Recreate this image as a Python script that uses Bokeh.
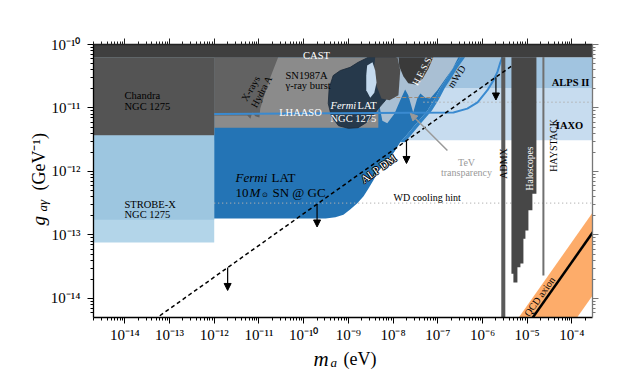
import numpy as np
from bokeh.plotting import figure
from bokeh.models import (Range1d, LogAxis, FixedTicker, CustomJSTickFormatter,
                          Label, Arrow, NormalHead)
from bokeh.embed import file_html
from bokeh.resources import INLINE

FONT = "Liberation Serif"

# ---------------- data: log10 of m_a [eV] and of g_a_gamma [GeV^-1] ----------------
x_lim_log = [-14.70, -3.54]
y_lim_log = [-14.30, -10.00]

x_tick_exps = [-14, -13, -12, -11, -10, -9, -8, -7, -6, -5, -4]
x_tick_labels = ["10⁻¹⁴", "10⁻¹³", "10⁻¹²", "10⁻¹¹", "10⁻¹⁰", "10⁻⁹",
                 "10⁻⁸", "10⁻⁷", "10⁻⁶", "10⁻⁵", "10⁻⁴"]
y_tick_exps = [-14, -13, -12, -11, -10]
y_tick_labels = ["10⁻¹⁴", "10⁻¹³", "10⁻¹²", "10⁻¹¹", "10⁻¹⁰"]

cast_g_log = [-10.20, -9.95]
chandra_m_log = [-14.80, -12.00]
chandra_g_log = [-11.43, -10.20]
strobe_m_log = [-14.80, -12.00]
strobe_outer_g_log = [-13.12, -11.43]
strobe_inner_g_log = [-12.76, -11.43]
alps_g_log = [-10.69, -10.20]
iaxo_g_log = [-11.51, -10.69]

fermi_sn_m_log = [-12.0, -12.0, -9.51, -9.29, -9.11, -8.96, -8.80, -8.66, -8.55, -8.44,
                  -8.35, -8.24, -8.13, -7.97, -7.84, -7.70, -7.57, -7.39, -7.23, -7.08,
                  -6.94, -6.79, -6.65, -6.49]
fermi_sn_g_log = [-10.2, -12.74, -12.74, -12.72, -12.68, -12.60, -12.50, -12.39, -12.27,
                  -12.14, -12.02, -11.92, -11.83, -11.69, -11.54, -11.43, -11.32, -11.17,
                  -11.04, -10.87, -10.68, -10.52, -10.36, -10.2]

mwd_m_log = [-7.84, -7.70, -7.57, -7.39, -7.23, -7.08, -6.94, -6.79, -6.65, -6.49,
             -6.39, -6.55, -6.69, -6.84, -6.98, -7.13, -7.29, -7.47, -7.60, -7.74]
mwd_g_log = [-11.54, -11.43, -11.32, -11.17, -11.04, -10.87, -10.68, -10.52, -10.36, -10.2,
             -10.2, -10.36, -10.52, -10.68, -10.87, -11.04, -11.17, -11.32, -11.43, -11.54]

tev_m_log = [-8.33, -6.54, -6.67, -6.83, -7.01, -7.17, -7.28, -7.39, -7.46, -7.55,
             -7.66, -7.73, -7.84, -7.97, -8.13, -8.24, -8.33]
tev_g_log = [-10.2, -10.2, -10.38, -10.54, -10.72, -10.85, -10.84, -10.77, -10.85, -11.07,
             -10.80, -10.71, -10.88, -11.09, -11.24, -11.20, -10.88]

sn1987a_m_log = [-12.00, -8.33]
sn1987a_g_log = [-11.31, -10.20]

hydra_m_log = [-12.0, -10.57, -10.79, -10.97, -10.99, -11.08, -11.15, -11.19, -11.26, -12.0]
hydra_g_log = [-10.2, -10.2, -10.60, -11.01, -11.15, -11.13, -11.07, -11.17, -11.12, -11.12]

fermi_ngc_m_log = [-9.45, -9.43, -9.34, -9.18, -8.96, -8.78, -8.55, -7.95, -7.90, -7.97,
                   -8.08, -8.17, -8.33, -8.46, -8.60, -8.78, -9.00, -9.22, -9.38]
fermi_ngc_g_log = [-10.93, -10.69, -10.49, -10.41, -10.36, -10.28, -10.2, -10.2, -10.38,
                   -10.57, -10.76, -10.88, -11.01, -11.13, -11.23, -11.31, -11.32, -11.28,
                   -11.13]

hole_m_log = [-8.58, -8.46, -8.40, -8.37, -8.42, -8.51, -8.60, -8.60]
hole_g_log = [-10.33, -10.28, -10.41, -10.60, -10.76, -10.84, -10.72, -10.49]

midgray_m_log = [-8.40, -7.90, -7.84, -7.88, -8.08, -8.26, -8.37, -8.43]
midgray_g_log = [-10.2, -10.2, -10.41, -10.80, -10.88, -10.85, -10.65, -10.41]

hess_m_log = [-7.88, -7.10, -7.21, -7.34, -7.50, -7.66, -7.77, -7.86]
hess_g_log = [-10.2, -10.2, -10.38, -10.54, -10.63, -10.61, -10.50, -10.35]

lat_line_m_log = [-12.0, -6.65, -6.34, -6.11, -5.89, -5.76, -5.67, -5.60, -5.555]
lat_line_g_log = [-11.094, -11.07, -11.01, -10.91, -10.72, -10.57, -10.44, -10.28, -10.2]

wd_hint_g_log = -12.50
wd_hint_m_log = [-12.0, -3.54]
upper_hint_g_log = -10.91
upper_hint_m_log = [-7.32, -3.54]
brown_g_log = -10.835
brown_m_log = [-8.33, -6.95]

alp_m_log = [-13.60, -5.36]
alp_g_log = [-14.464, -10.344]
alp_arrow_m_log = [-11.70, -9.70, -7.70, -5.70]
alp_arrow_g_log = [-13.514, -12.514, -11.514, -10.514]
arrow_len_dec = 0.36

admx_m_log = [-5.58, -5.49]
halo_edges_m_log = [-5.353, -5.309, -5.219, -5.152, -5.085, -5.040, -4.973, -4.884, -4.794]
halo_bottom_g_log = [-13.61, -13.75, -13.51, -13.45, -13.06, -12.93, -12.61, -12.35]
haystack_m_log = -4.638
haystack_g_log = [-13.64, -10.2]

qcd_m_log = [-5.49, -3.40, -3.40, -4.185]
qcd_g_log = [-14.60, -12.51, -13.815, -14.60]
qcd_line_m_log = [-4.90, -3.40]
qcd_line_g_log = [-14.325, -12.825]

tev_arrow_m_log = [-6.785, -7.613]
tev_arrow_g_log = [-11.669, -11.087]


def E(v):
    return 10.0 ** np.asarray(v, dtype=float)


# ---------------- figure ----------------
FRAME = dict(left=93, top=44, width=499, height=273)
p = figure(width=620, height=372, x_axis_type="log", y_axis_type="log",
           x_range=Range1d(10 ** x_lim_log[0], 10 ** x_lim_log[1]),
           y_range=Range1d(10 ** y_lim_log[0], 10 ** y_lim_log[1]),
           output_backend="svg", toolbar_location=None,
           min_border_left=93, min_border_right=28, min_border_top=44, min_border_bottom=55)
p.grid.visible = False
p.outline_line_color = None
p.background_fill_color = "white"
p.border_fill_color = "white"

x_major = [10.0 ** e for e in x_tick_exps]
x_minor = [k * 10.0 ** e for e in range(-15, -3) for k in range(2, 10)]
y_major = [10.0 ** e for e in y_tick_exps]
y_minor = [k * 10.0 ** e for e in range(-15, -9) for k in range(2, 10)]

fmt_code = """
const e = Math.round(Math.log10(tick));
const i = exps.indexOf(e);
return i >= 0 ? labels[i] : "";
"""
xfmt = CustomJSTickFormatter(args=dict(exps=x_tick_exps, labels=x_tick_labels), code=fmt_code)
yfmt = CustomJSTickFormatter(args=dict(exps=y_tick_exps, labels=y_tick_labels), code=fmt_code)
blank = CustomJSTickFormatter(code="return '';")


def style_axis(ax, color="black"):
    ax.axis_line_color = color
    ax.axis_line_width = 1.3
    ax.major_tick_line_color = color
    ax.minor_tick_line_color = color
    ax.major_tick_out = 6
    ax.major_tick_in = 0
    ax.minor_tick_out = 3
    ax.minor_tick_in = 0
    ax.major_label_text_font = FONT
    ax.major_label_text_font_size = "15px"
    ax.major_label_text_color = "black"
    ax.major_label_standoff = 4


p.xaxis.ticker = FixedTicker(ticks=x_major, minor_ticks=x_minor)
p.yaxis.ticker = FixedTicker(ticks=y_major, minor_ticks=y_minor)
p.xaxis.formatter = xfmt
p.yaxis.formatter = yfmt
for ax in p.xaxis + p.yaxis:
    style_axis(ax)
p.yaxis.major_label_orientation = "horizontal"
p.yaxis.major_label_standoff = 7
p.xaxis.major_label_standoff = 3

top = LogAxis(ticker=FixedTicker(ticks=x_major, minor_ticks=x_minor), formatter=blank)
right = LogAxis(ticker=FixedTicker(ticks=y_major, minor_ticks=y_minor), formatter=blank)
style_axis(top, "#222222")
style_axis(right, "#777777")
top.major_label_text_font_size = "1px"
right.major_label_text_font_size = "1px"
p.add_layout(top, "above")
p.add_layout(right, "right")

XL, XR = E(x_lim_log[0] - 0.3), E(x_lim_log[1] + 0.3)

# light blue bands (ALPS II, IAXO)
p.quad(left=XL, right=XR, bottom=E(iaxo_g_log[0]), top=E(iaxo_g_log[1]),
       fill_color="#c7dcef", line_color=None)
p.quad(left=XL, right=XR, bottom=E(alps_g_log[0]), top=E(alps_g_log[1]),
       fill_color="#a1c4e0", line_color=None)
# STROBE-X
p.quad(left=E(strobe_m_log[0]), right=E(strobe_m_log[1]), bottom=E(strobe_outer_g_log[0]),
       top=E(strobe_outer_g_log[1]), fill_color="#b3d5e9", line_color=None)
p.quad(left=E(strobe_m_log[0]), right=E(strobe_m_log[1]), bottom=E(strobe_inner_g_log[0]),
       top=E(strobe_inner_g_log[1]), fill_color="#9dc6e0", line_color=None)
# Fermi LAT SN @ GC
p.patch(E(fermi_sn_m_log), E(fermi_sn_g_log), fill_color="#2474b5", line_color=None)
p.patch(E(mwd_m_log), E(mwd_g_log), fill_color="#3182c4", line_color=None)
# dotted hints on top of the blue
p.line(E(wd_hint_m_log), E([wd_hint_g_log] * 2), line_color="#b0b0b0", line_width=1.3,
       line_dash="1 3")
p.line(E(upper_hint_m_log), E([upper_hint_g_log] * 2), line_color="#b0b0b0", line_width=1.3,
       line_dash="1 3")
# TeV transparency
p.patch(E(tev_m_log), E(tev_g_log), fill_color="#a9bfd3", line_color=None)
p.line(E(brown_m_log), E([brown_g_log] * 2), line_color="#a08c78", line_width=1.2,
       line_dash="4 2")
# SN1987A, Hydra A, Chandra
p.quad(left=E(sn1987a_m_log[0]), right=E(sn1987a_m_log[1]), bottom=E(sn1987a_g_log[0]),
       top=E(sn1987a_g_log[1]), fill_color="#8b8b8b", line_color=None)
p.patch(E(hydra_m_log), E(hydra_g_log), fill_color="#626262", line_color=None)
p.quad(left=E(chandra_m_log[0]), right=E(chandra_m_log[1]), bottom=E(chandra_g_log[0]),
       top=E(chandra_g_log[1]), fill_color="#545454", line_color=None)
# blob regions
p.patch(E(fermi_ngc_m_log), E(fermi_ngc_g_log), fill_color="#26394b", line_color="#1c2a38",
        line_width=0.8)
p.patch(E(midgray_m_log), E(midgray_g_log), fill_color="#4e4e4e", line_color=None)
p.patch(E(hess_m_log), E(hess_g_log), fill_color="#3a3a3a", line_color=None)
p.patch(E(hole_m_log), E(hole_g_log), fill_color="#c4daee", line_color=None)
# Fermi LAT line
p.line(E(lat_line_m_log), E(lat_line_g_log), line_color="#3a8ad0", line_width=2)
# haloscopes
p.quad(left=E(admx_m_log[0]), right=E(admx_m_log[1]), bottom=E(y_lim_log[0] - 0.3),
       top=E(cast_g_log[0]), fill_color="#5a5a5a", line_color=None)
halo_x = [halo_edges_m_log[0]]
halo_y = [cast_g_log[0]]
for i, b in enumerate(halo_bottom_g_log):
    halo_x += [halo_edges_m_log[i], halo_edges_m_log[i + 1]]
    halo_y += [b, b]
halo_x.append(halo_edges_m_log[-1])
halo_y.append(cast_g_log[0])
p.patch(E(halo_x), E(halo_y), fill_color="#474747", line_color=None)
p.line(E([haystack_m_log] * 2), E(haystack_g_log), line_color="#707070", line_width=2)
# QCD axion
p.patch(E(qcd_m_log), E(qcd_g_log), fill_color="#fdac6a", line_color=None)
p.line(E(qcd_line_m_log), E(qcd_line_g_log), line_color="black", line_width=2.5)
# CAST
p.quad(left=XL, right=XR, bottom=E(cast_g_log[0]), top=E(cast_g_log[1]),
       fill_color="#3f3f3f", line_color=None)
# ALP DM
p.line(E(alp_m_log), E(alp_g_log), line_color="black", line_width=1.5, line_dash="4 3")
for mx, gy in zip(alp_arrow_m_log, alp_arrow_g_log):
    p.add_layout(Arrow(x_start=10 ** mx, y_start=10 ** gy, x_end=10 ** mx,
                       y_end=10 ** (gy - arrow_len_dec), line_width=1.2, line_color="black",
                       end=NormalHead(size=7, fill_color="black", line_color="black")))
p.add_layout(Arrow(x_start=10 ** tev_arrow_m_log[0], y_start=10 ** tev_arrow_g_log[0],
                   x_end=10 ** tev_arrow_m_log[1], y_end=10 ** tev_arrow_g_log[1],
                   line_width=1.5, line_color="#999999",
                   end=NormalHead(size=7, fill_color="#999999", line_color="#999999")))


# ---------------- labels: placed by page pixel, converted through the data scales -----------
def page_to_data(px, py):
    fx = (px - FRAME["left"]) / FRAME["width"]
    fy = (py - FRAME["top"]) / FRAME["height"]
    lx = x_lim_log[0] + fx * (x_lim_log[1] - x_lim_log[0])
    ly = y_lim_log[1] - fy * (y_lim_log[1] - y_lim_log[0])
    return 10 ** lx, 10 ** ly


def lab(text, px, py, size=10.0, color="black", align="left", baseline="alphabetic",
        angle=0.0, style="normal", side="center"):
    x, y = page_to_data(px, py)
    p.add_layout(Label(x=x, y=y, text=text, text_font=FONT, text_font_size=f"{size}px",
                       text_color=color, text_align=align, text_baseline=baseline,
                       angle=angle, text_font_style=style), side)


deg = np.pi / 180
lab("CAST", 316, 55, 10.5, "white", "center")
lab("Chandra", 124, 95, 10.5)
lab("NGC 1275", 124, 106, 10.5)
lab("STROBE-X", 124, 204, 10.5)
lab("NGC 1275", 124, 214, 10.5)
lab("X-rays", 250, 88, 10, "black", "center", "middle", 60 * deg)
lab("Hydra A", 261, 91, 10, "black", "center", "middle", 62 * deg)
lab("SN1987A", 285, 75, 10.5)
lab("γ-ray burst", 285, 85, 10.5)
lab("LHAASO", 300, 112, 10.5, "white", "center")
lab("Fermi", 330, 105, 10.5, "white", style="italic")
lab("LAT", 357, 105, 10.5, "white")
lab("NGC 1275", 330, 118, 10.5, "white")
lab("H.E.S.S.", 422, 70, 9.5, "white", "center", "middle", 62 * deg)
lab("mWD", 456, 76, 10, "black", "center", "middle", 57 * deg)
lab("ALPS II", 570, 82, 10.5, align="center", style="bold")
lab("IAXO", 569, 125, 10.5, align="center", style="bold")
lab("HAYSTACK", 553, 145, 10, align="center", angle=90 * deg)
lab("ADMX", 503, 163, 10, align="center", angle=90 * deg)
lab("Haloscopes", 529, 168, 9.5, "white", "center", angle=90 * deg)
lab("TeV", 466, 162, 10, "#999999", "center")
lab("transparency", 466, 172, 10, "#999999", "center")
lab("Fermi", 235, 177, 13, style="italic")
lab("LAT", 271, 177, 13)
lab("10", 235, 192, 13)
lab("M", 249, 192, 13, style="italic")
lab("⊙", 261, 194, 7)
lab("SN @ GC", 272, 192, 13)
lab("WD cooling hint", 393, 197, 10)
for dx, dy in [(-0.8, 0), (0.8, 0), (0, -0.8), (0, 0.8), (-0.6, -0.6), (0.6, 0.6),
               (-0.6, 0.6), (0.6, -0.6)]:
    lab("ALP DM", 378 + dx, 168 + dy, 11, "black", "center", "middle", 35.4 * deg)
lab("ALP DM", 378, 168, 11, "white", "center", "middle", 35.4 * deg)
lab("QCD axion", 539, 296, 10, "black", "center", "middle", 54.8 * deg)

# axis titles (side panels so they are not clipped by the frame)
lab("m", 313, 358, 21, style="italic", side="left")
lab("a", 330, 362, 13, style="italic", side="left")
lab("(eV)", 343, 358, 18, side="below")
lab("g", 38, 225, 19, style="italic", angle=90 * deg, side="above")
lab("aγ", 42, 211, 13, style="italic", angle=90 * deg, side="above")
lab("(GeV⁻¹)", 38, 190, 18, angle=90 * deg, side="left")

open("out.html", "w").write(file_html(p, INLINE))
